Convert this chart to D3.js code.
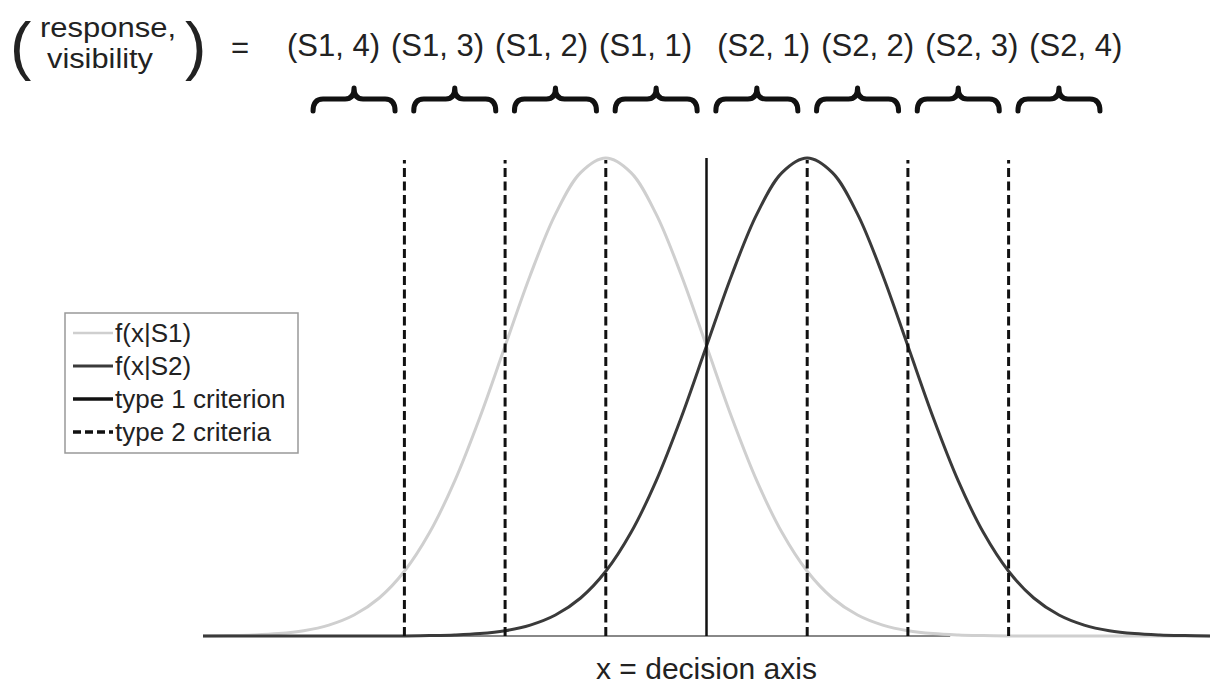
<!DOCTYPE html>
<html lang="en">

<head>
    <title>Type 1 and type 2 criteria</title>
    <meta charset="utf-8">
    <script src="https://d3js.org/d3.v7.min.js"></script>
    <style>
        body { margin: 0; background: #fff; }
        svg text { font-family: "Liberation Sans", Arial, sans-serif; fill: #222; }
    </style>
</head>

<body>
    <div id="container"></div>
    <script>
        // Data
        const xGrid = [-5, -4.75, -4.5, -4.25, -4, -3.75, -3.5, -3.25, -3, -2.75, -2.5, -2.25, -2, -1.75, -1.5, -1.25, -1,
            -0.75, -0.5, -0.25, 0, 0.25, 0.5, 0.75, 1, 1.25, 1.5, 1.75, 2, 2.25, 2.5, 2.75, 3, 3.25, 3.5, 3.75, 4,
            4.25, 4.5, 4.75, 5];
        const densityS1 = [0.0001, 0.0004, 0.0009, 0.0020, 0.0044, 0.0091, 0.0175, 0.0317, 0.0540, 0.0863, 0.1295,
            0.1826, 0.2420, 0.3011, 0.3521, 0.3867, 0.3989, 0.3867, 0.3521, 0.3011, 0.2420, 0.1826, 0.1295, 0.0863,
            0.0540, 0.0317, 0.0175, 0.0091, 0.0044, 0.0020, 0.0009, 0.0004, 0.0001, 0, 0, 0, 0, 0, 0, 0, 0];
        const densityS2 = [0, 0, 0, 0, 0, 0, 0, 0, 0.0001, 0.0004, 0.0009, 0.0020, 0.0044, 0.0091, 0.0175, 0.0317,
            0.0540, 0.0863, 0.1295, 0.1826, 0.2420, 0.3011, 0.3521, 0.3867, 0.3989, 0.3867, 0.3521, 0.3011, 0.2420,
            0.1826, 0.1295, 0.0863, 0.0540, 0.0317, 0.0175, 0.0091, 0.0044, 0.0020, 0.0009, 0.0004, 0.0001];
        const peakDensity = 0.3989;
        const type1Criterion = [0];
        const type2Criteria = [-3, -2, -1, 1, 2, 3];
        const binEdges = [-4, -3, -2, -1, 0, 1, 2, 3, 4];
        const binLabels = ["(S1, 4)", "(S1, 3)", "(S1, 2)", "(S1, 1)", "(S2, 1)", "(S2, 2)", "(S2, 3)", "(S2, 4)"];
        const axisEnd = 2.42;
        const legendItems = ["f(x|S1)", "f(x|S2)", "type 1 criterion", "type 2 criteria"];

        // Canvas
        const W = 1210, H = 687;
        const svg = d3.select("#container")
            .append("svg")
            .attr("width", W)
            .attr("height", H);

        // Scales
        const xScale = d3.scaleLinear().domain([-5, 5]).range([203, 1210]);
        const yScale = d3.scaleLinear().domain([0, peakDensity]).range([636, 158]);

        const S1_COLOR = "#cfcfcf", S2_COLOR = "#3a3a3a", CRIT_COLOR = "#111";
        const DASH = "9,4.5";

        // Baseline
        svg.append("line")
            .attr("x1", xScale(-5)).attr("x2", xScale(axisEnd))
            .attr("y1", yScale(0)).attr("y2", yScale(0))
            .attr("stroke", "#888").attr("stroke-width", 2);

        // Curves
        const line = d3.line()
            .x(d => xScale(d[0]))
            .y(d => yScale(d[1]))
            .curve(d3.curveCatmullRom);

        svg.append("path")
            .attr("d", line(xGrid.map((x, i) => [x, densityS1[i]])))
            .attr("fill", "none").attr("stroke", S1_COLOR).attr("stroke-width", 3);

        svg.append("path")
            .attr("d", line(xGrid.map((x, i) => [x, densityS2[i]])))
            .attr("fill", "none").attr("stroke", S2_COLOR).attr("stroke-width", 3);

        // Criteria
        svg.selectAll("line.type2")
            .data(type2Criteria)
            .join("line")
            .attr("class", "type2")
            .attr("x1", d => xScale(d)).attr("x2", d => xScale(d))
            .attr("y1", yScale(0)).attr("y2", yScale(peakDensity) + 2)
            .attr("stroke", CRIT_COLOR).attr("stroke-width", 3)
            .attr("stroke-dasharray", DASH);

        svg.selectAll("line.type1")
            .data(type1Criterion)
            .join("line")
            .attr("class", "type1")
            .attr("x1", d => xScale(d)).attr("x2", d => xScale(d))
            .attr("y1", yScale(0)).attr("y2", yScale(peakDensity))
            .attr("stroke", CRIT_COLOR).attr("stroke-width", 2.5);

        // Braces over each bin
        const bins = d3.pairs(binEdges).map(([a, b]) => (a + b) / 2);
        const braceHalf = 41, yEnd = 111, yArm = 99, yTip = 88;
        function bracePath(cx) {
            const x0 = cx - braceHalf, x1 = cx + braceHalf;
            return `M${x0},${yEnd} Q${x0},${yArm} ${x0 + 10},${yArm} L${cx - 9},${yArm} Q${cx},${yArm} ${cx},${yTip}` +
                ` Q${cx},${yArm} ${cx + 9},${yArm} L${x1 - 10},${yArm} Q${x1},${yArm} ${x1},${yEnd}`;
        }
        svg.selectAll("path.brace")
            .data(bins)
            .join("path")
            .attr("class", "brace")
            .attr("d", d => bracePath(xScale(d)))
            .attr("fill", "none").attr("stroke", "#111")
            .attr("stroke-width", 5).attr("stroke-linecap", "round").attr("stroke-linejoin", "round");

        // Bin labels, laid out in a row
        const labelRow = svg.append("g");
        let cursor = 287;
        binLabels.forEach((lab, i) => {
            const t = labelRow.append("text")
                .attr("x", cursor).attr("y", 56)
                .style("font-size", "31px")
                .text(lab);
            cursor += t.node().getComputedTextLength() + (i === 3 ? 25 : 11);
        });

        // Left header
        svg.append("text").attr("x", 10).attr("y", 68)
            .style("font-size", "64px").style("font-weight", "300").text("(");
        svg.append("text").attr("x", 185).attr("y", 68)
            .style("font-size", "64px").style("font-weight", "300").text(")");
        svg.append("text").attr("x", 40).attr("y", 37)
            .attr("textLength", 136).attr("lengthAdjust", "spacingAndGlyphs")
            .style("font-size", "27px").text("response,");
        svg.append("text").attr("x", 47).attr("y", 68)
            .attr("textLength", 106).attr("lengthAdjust", "spacingAndGlyphs")
            .style("font-size", "27px").text("visibility");
        svg.append("text").attr("x", 231).attr("y", 58).style("font-size", "31px").text("=");

        // Axis label
        svg.append("text")
            .attr("x", xScale(0)).attr("y", 679)
            .attr("text-anchor", "middle")
            .style("font-size", "30px")
            .text("x = decision axis");

        // Legend
        const legend = svg.append("g").attr("transform", "translate(65,313)");
        legend.append("rect")
            .attr("width", 233).attr("height", 140)
            .attr("fill", "#fff").attr("stroke", "#999").attr("stroke-width", 1.5);

        const legendStyles = [
            { color: S1_COLOR, dash: null, w: 2.5 },
            { color: S2_COLOR, dash: null, w: 3 },
            { color: CRIT_COLOR, dash: null, w: 3.5 },
            { color: CRIT_COLOR, dash: "8,4", w: 3.5 }
        ];
        const rowY = d3.scalePoint().domain(legendItems).range([20, 119]);

        legendItems.forEach((name, i) => {
            const y = rowY(name);
            legend.append("line")
                .attr("x1", 8).attr("x2", 48).attr("y1", y).attr("y2", y)
                .attr("stroke", legendStyles[i].color)
                .attr("stroke-width", legendStyles[i].w)
                .attr("stroke-dasharray", legendStyles[i].dash);
            legend.append("text")
                .attr("x", 50).attr("y", y + 9)
                .style("font-size", "26px")
                .text(name);
        });
    </script>
</body>

</html>
